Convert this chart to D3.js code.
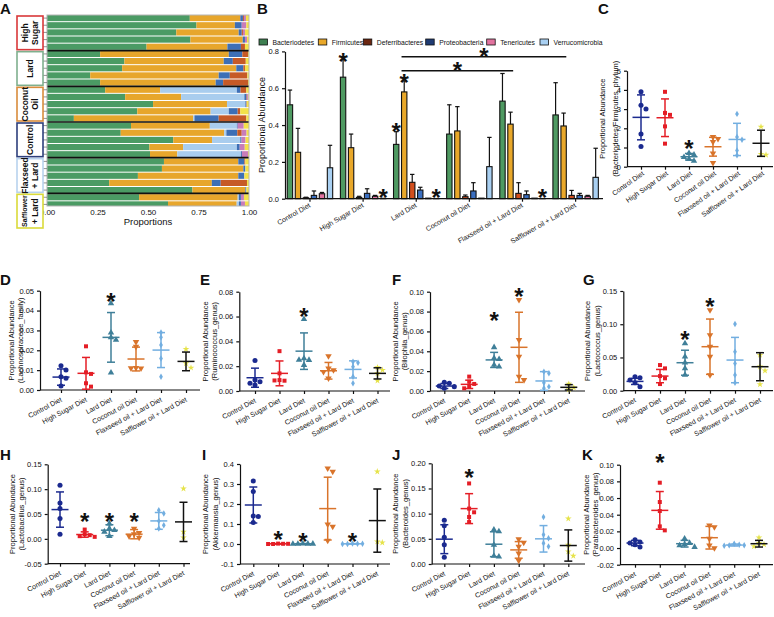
<!DOCTYPE html>
<html>
<head>
<meta charset="utf-8">
<script src="https://cdn.jsdelivr.net/npm/d3@7"></script>
<style>
  body { margin: 0; background: #fff; }
  svg { display: block; font-family: "Liberation Sans", Arial, sans-serif; }
</style>
</head>
<body>
<svg width="774" height="617"></svg>
<script>
const svg = d3.select('svg')

// ---------------- data ----------------
const diets = ['Control Diet', 'High Sugar Diet', 'Lard Diet', 'Coconut oil Diet', 'Flaxseed oil + Lard Diet', 'Safflower oil + Lard Diet']

// panel A: one row per mouse, top to bottom
const stackGroups = ['High Sugar', 'Lard', 'Coconut Oil', 'Control', 'Flaxseed + Lard', 'Safflower + Lard']
const stackGroupRows = [5, 5, 5, 5, 5, 4]
const stackBacteroidetes = [0.707, 0.74, 0.64, 0.71, 0.493, 0.263, 0.383, 0.372, 0.214, 0.263, 0.288, 0.387, 0.525, 0.447, 0.133, 0.416, 0.365, 0.625, 0.507, 0.51, 0.579, 0.569, 0.45, 0.308, 0.72, 0.456, 0.599, 0.648, 0.5]
const stackFirmicutes = [0.25, 0.19, 0.309, 0.259, 0.4, 0.637, 0.492, 0.565, 0.636, 0.572, 0.272, 0.277, 0.366, 0.363, 0.591, 0.39, 0.512, 0.192, 0.167, 0.135, 0.368, 0.403, 0.497, 0.508, 0.262, 0.488, 0.34, 0.312, 0.45]
const stackVerrucomicrobia = [0, 0, 0, 0, 0, 0, 0, 0, 0, 0, 0.38, 0.313, 0.091, 0.09, 0.006, 0.134, 0.011, 0.14, 0.266, 0.315, 0, 0, 0, 0, 0, 0.006, 0.011, 0, 0.005]
const stackProteobacteria = [0.013, 0.034, 0.015, 0.011, 0.067, 0.067, 0.045, 0.035, 0.055, 0.037, 0.018, 0.011, 0.005, 0.044, 0.12, 0.004, 0.054, 0.006, 0.014, 0.005, 0.03, 0.01, 0.03, 0.044, 0.005, 0.01, 0.01, 0.01, 0.01]
const stackDeferribacteres = [0.005, 0, 0.006, 0, 0.02, 0.028, 0.064, 0.008, 0.087, 0.123, 0.029, 0.003, 0.002, 0.013, 0.137, 0, 0.022, 0, 0, 0, 0.005, 0, 0, 0.13, 0, 0, 0, 0, 0]
const stackTenericutes = [0.01, 0.023, 0.01, 0.01, 0, 0, 0, 0, 0, 0, 0, 0.006, 0, 0, 0, 0.03, 0.024, 0.02, 0.025, 0.03, 0, 0, 0, 0, 0, 0.015, 0.02, 0.01, 0.015]
const stackTicks = [0, 0.25, 0.5, 0.75, 1]

// panel B: mean and SD of each phylum per diet
const phyla = ['Bacteriodetes', 'Firmicutes', 'Deferribacteres', 'Proteobacteria', 'Tenericutes', 'Verrucomicrobia']
const bacteriodetesMean = [0.51, 0.66, 0.295, 0.351, 0.53, 0.455]
const bacteriodetesSD = [0.08, 0.095, 0.069, 0.159, 0.15, 0.175]
const firmicutesMean = [0.252, 0.277, 0.58, 0.368, 0.405, 0.395]
const firmicutesSD = [0.13, 0.074, 0.06, 0.132, 0.065, 0.07]
const deferribacteresMean = [0.005, 0.007, 0.089, 0.011, 0.029, 0.018]
const deferribacteresSD = [0.003, 0.006, 0.043, 0.009, 0.058, 0.027]
const proteobacteriaMean = [0.018, 0.029, 0.047, 0.042, 0.022, 0.018]
const proteobacteriaSD = [0.024, 0.025, 0.015, 0.045, 0.02, 0.011]
const tenericutesMean = [0.027, 0.013, 0.003, 0.003, 0.003, 0.013]
const tenericutesSD = [0.007, 0.005, 0.001, 0.001, 0.001, 0.005]
const verrucomicrobiaMean = [0.168, 0.002, 0.001, 0.174, 0.001, 0.116]
const verrucomicrobiaSD = [0.122, 0, 0, 0.159, 0, 0.158]
const phylumTicks = [0, 0.2, 0.4, 0.6, 0.8]
const phylumStars = [
  ['High Sugar Diet', 'Bacteriodetes', 0.768],
  ['Lard Diet', 'Bacteriodetes', 0.391],
  ['Lard Diet', 'Firmicutes', 0.654],
  ['High Sugar Diet', 'Verrucomicrobia', 0.029],
  ['Lard Diet', 'Verrucomicrobia', 0.029],
  ['Flaxseed oil + Lard Diet', 'Verrucomicrobia', 0.029]
]
const phylumBrackets = [
  ['Lard Diet', 'Safflower oil + Lard Diet', 0.771],
  ['Lard Diet', 'Flaxseed oil + Lard Diet', 0.695]
]

// panels C-K: individual mice, mean, SD, star height (null = none)
const ratioPts = [[3.9, 3.2, 3.0, 1.7, 1.05], [3.9, 2.8, 2.7, 2.1, 1.2], [0.7, 0.62, 0.5, 0.4, 0.3], [1.55, 1.45, 1.3, 0.7, 0.2], [2.75, 1.55, 1.4, 0.85, 0.6], [2.08, 0.66, 0.62]]
const ratioMean = [2.57, 2.55, 0.52, 1.04, 1.42, 1.22]
const ratioSD = [1.17, 0.98, 0.17, 0.49, 0.84, 0.68]
const ratioStars = [null, null, 1.18, null, null, null]
const ratioTicks = [0, 1, 2, 3, 4, 5]

const lachnoPts = [[0.0122, 0.0101, 0.0067, 0.0059, 0.002], [0.022, 0.0089, 0.0081, 0.0034, 0.0017], [0.0436, 0.0289, 0.0265, 0.0252, 0.0087], [0.0242, 0.0218, 0.0112, 0.0109, 0.011], [0.029, 0.0265, 0.0227, 0.0159, 0.0067], [0.0206, 0.0134, 0.0112]]
const lachnoMean = [0.0065, 0.0084, 0.0265, 0.0156, 0.0201, 0.0144]
const lachnoSD = [0.0041, 0.008, 0.0125, 0.006, 0.0088, 0.0047]
const lachnoStars = [null, null, 0.0469, null, null, null]
const lachnoTicks = [0, 0.01, 0.02, 0.03, 0.04, 0.05]

const ruminoPts = [[0.0246, 0.0088, 0.0075, 0.0062, 0.0048], [0.0321, 0.0142, 0.0088, 0.0083, 0.0085], [0.0578, 0.0262, 0.0249, 0.0209, 0.025], [0.0281, 0.0182, 0.0169, 0.0155, 0.0102], [0.0236, 0.0228, 0.0195, 0.0115, 0.0062], [0.019, 0.0169, 0.0142, 0.0083]]
const ruminoMean = [0.0107, 0.0142, 0.0321, 0.0163, 0.0174, 0.0142]
const ruminoSD = [0.0077, 0.01, 0.0147, 0.0067, 0.0069, 0.0045]
const ruminoStars = [null, null, 0.0639, null, null, null]
const ruminoTicks = [0, 0.02, 0.04, 0.06, 0.08]

const biloPts = [[0.0087, 0.0077, 0.005, 0.0044, 0.0027], [0.0145, 0.0094, 0.0071, 0.0044, 0.0027], [0.044, 0.033, 0.032, 0.0262, 0.0245], [0.0918, 0.0514, 0.0346, 0.0145, 0.0111], [0.0195, 0.0178, 0.0084, 0.0044, 0.0027], [0.0071, 0.0034, 0.0017]]
const biloMean = [0.005, 0.0067, 0.0313, 0.044, 0.0101, 0.0037]
const biloSD = [0.0025, 0.0042, 0.0076, 0.0353, 0.0094, 0.0027]
const biloStars = [null, null, 0.0758, 0.1, null, null]
const biloTicks = [0, 0.02, 0.04, 0.06, 0.08, 0.1]

const lactococPts = [[0.021, 0.0196, 0.016, 0.012, 0.006], [0.0386, 0.0336, 0.022, 0.0186, 0.01], [0.0712, 0.0512, 0.0421, 0.0336, 0.0236], [0.1214, 0.0837, 0.0662, 0.0512, 0.0236], [0.1003, 0.0587, 0.0411, 0.0236, 0.012], [0.0537, 0.0361, 0.0301, 0.0095]]
const lactococMean = [0.014, 0.022, 0.0421, 0.0662, 0.0461, 0.0361]
const lactococSD = [0.0046, 0.01, 0.0188, 0.0416, 0.0341, 0.0211]
const lactococStars = [null, null, 0.0838, 0.134, null, null]
const lactococTicks = [0, 0.05, 0.1, 0.15]

const lactobacPts = [[0.1078, 0.0723, 0.0609, 0.0408, 0.0094], [0.0187, 0.0094, 0.0074, 0.0054, 0.004], [0.0308, 0.0207, 0.0174, 0.0141, 0.0054], [0.0207, 0.012, 0.0094, 0.0054, 0.0027], [0.0576, 0.0509, 0.0361, 0.0274, 0.0207], [0.1011, 0.0141, 0.0027]]
const lactobacMean = [0.0589, 0.0087, 0.0174, 0.0094, 0.0361, 0.0341]
const lactobacSD = [0.0355, 0.0054, 0.011, 0.0093, 0.0169, 0.0395]
const lactobacStars = [null, 0.043, 0.043, 0.043, null, null]
const lactobacTicks = [-0.05, 0, 0.05, 0.1, 0.15]

const akkPts = [[0.315, 0.262, 0.14, 0.137, 0.107], [0.002, 0.001, 0, 0.001, 0], [0.002, 0.001, 0, 0.001, 0], [0.378, 0.362, 0.098, 0.087, 0.017], [0.002, 0.001, 0, 0.001, 0], [0.362, 0.012, 0.007]]
const akkMean = [0.195, 0.001, 0.001, 0.177, 0.001, 0.117]
const akkSD = [0.09, 0.001, 0.001, 0.157, 0.001, 0.158]
const akkStars = [null, 0.045, 0.0335, null, 0.0335, null]
const akkTicks = [-0.1, 0, 0.1, 0.2, 0.3, 0.4]

const bacteroidesPts = [[0.0867, 0.076, 0.0533, 0.038, 0.0133], [0.16, 0.11, 0.1027, 0.0933, 0.0833], [0.068, 0.0647, 0.038, 0.016, 0.0147], [0.0493, 0.0427, 0.0347, 0.0213, 0.0067], [0.0933, 0.058, 0.0513, 0.0413, 0.0347], [0.09, 0.038, 0.0247, 0.016]]
const bacteroidesMean = [0.0493, 0.11, 0.0393, 0.028, 0.05, 0.0367]
const bacteroidesSD = [0.0287, 0.0297, 0.0247, 0.0165, 0.0263, 0.031]
const bacteroidesStars = [null, 0.18, null, null, null, null]
const bacteroidesTicks = [0, 0.05, 0.1, 0.15, 0.2]

const paraPts = [[0.01, 0.0072, 0.006, 0.004, 0.0012], [0.0784, 0.0552, 0.0444, 0.026, 0.0212], [0.0112, 0.006, 0.0044, 0.0032, 0.0012], [0.0272, 0.0252, 0.0112, 0.0032, 0], [0.0052, 0.004, 0.0032, 0.0034, 0.0028], [0.0124, 0.006, 0.0044, 0.002]]
const paraMean = [0.006, 0.0452, 0.0052, 0.0124, 0.0036, 0.0052]
const paraSD = [0.0032, 0.0226, 0.004, 0.0136, 0.0012, 0.004]
const paraStars = [null, 0.108, null, null, null, null]
const paraTicks = [-0.02, 0, 0.02, 0.04, 0.06, 0.08, 0.1]

// ---------------- styles ----------------
const ink = '#111'
const stackKeys = ['Bacteroidetes', 'Firmicutes', 'Verrucomicrobia', 'Proteobacteria', 'Deferribacteres', 'Tenericutes', 'Other']
const stackColor = d3.scaleOrdinal(stackKeys, ['#4b9b64', '#e7a62c', '#a9cdee', '#3d6fb6', '#c65a27', '#c87db9', '#f3e24a'])
const boxColor = d3.scaleOrdinal(stackGroups, ['#d9383a', '#7fb08e', '#d98c3c', '#2d3f7c', '#b8d3ee', '#dada3a'])
const phylumColor = d3.scaleOrdinal(phyla, ['#4f9a62', '#e9a82a', '#d24f1e', '#3b6fc0', '#e2739f', '#a9d0f2'])
const legendColor = d3.scaleOrdinal(phyla, ['#3f7f50', '#e9a82a', '#6b2610', '#1f3b73', '#e2739f', '#a9d0f2'])
const dietColor = ['#1b2a8f', '#e41e26', '#3f7f99', '#d9742b', '#72aee0', '#e6e34a']
const errColor = ['#1b2a8f', '#e41e26', '#3f7f99', '#d9742b', '#72aee0', '#111']
const dietSymbol = [d3.symbolCircle, d3.symbolSquare, d3.symbolTriangle, d3.symbolTriangle, d3.symbolDiamond, d3.symbolStar]
const symbolSize = [20, 16, 18, 18, 12, 14]

const styleAxis = (g, fs) => {
  g.attr('font-size', fs).attr('font-family', null)
  g.selectAll('path, line').attr('stroke', ink).attr('stroke-width', 1.2)
  g.selectAll('text').attr('fill', ink)
}

const letter = (t, x, y) => svg.append('text').attr('x', x).attr('y', y)
  .attr('font-size', 15).attr('font-weight', 'bold').attr('fill', ink).text(t)

const star = (g, x, cy) => g.append('text').attr('x', x).attr('y', cy + 13)
  .attr('text-anchor', 'middle').attr('font-size', 24).attr('font-weight', 'bold')
  .attr('fill', ink).text('*')

// ---------------- panel A ----------------
letter('A', 0, 14)
const stackArrays = {
  Bacteroidetes: stackBacteroidetes, Firmicutes: stackFirmicutes, Verrucomicrobia: stackVerrucomicrobia,
  Proteobacteria: stackProteobacteria, Deferribacteres: stackDeferribacteres, Tenericutes: stackTenericutes
}
const stackRows = []
let k = 0
stackGroups.forEach((grp, gi) => {
  for (let j = 0; j < stackGroupRows[gi]; j++, k++) {
    const r = { group: grp, slot: gi * 5 + j }
    stackKeys.slice(0, 6).forEach(p => { r[p] = stackArrays[p][k] })
    r.Other = Math.max(0, 1 - d3.sum(stackKeys.slice(0, 6), p => r[p]))
    stackRows.push(r)
  }
})

const aLeft = 47, aRight = 249, aTop = 15, aBottom = 206
const aX = d3.scaleLinear().domain([0, 1]).range([aLeft, aRight])
const aSlot = d3.scaleBand().domain(d3.range(30)).range([aTop, 229]).paddingInner(0.14)
const aGroupY = d3.scaleBand().domain(stackGroups).range([aTop, 229])

svg.append('clipPath').attr('id', 'clipA')
  .append('rect').attr('x', aLeft).attr('y', aTop).attr('width', aRight - aLeft).attr('height', aBottom - aTop)

const aPlot = svg.append('g').attr('clip-path', 'url(#clipA)')
aPlot.selectAll('g.layer').data(d3.stack().keys(stackKeys)(stackRows)).join('g')
  .attr('fill', s => stackColor(s.key))
  .selectAll('rect').data(s => s).join('rect')
  .attr('x', d => aX(d[0]))
  .attr('width', d => Math.max(0, aX(d[1]) - aX(d[0])))
  .attr('y', d => aSlot(d.data.slot))
  .attr('height', aSlot.bandwidth())

aPlot.selectAll('line.sep').data(stackGroups.slice(1)).join('line')
  .attr('x1', aLeft).attr('x2', aRight)
  .attr('y1', d => aGroupY(d)).attr('y2', d => aGroupY(d))
  .attr('stroke', ink).attr('stroke-width', 1.6)

svg.append('rect').attr('x', aLeft).attr('y', aTop)
  .attr('width', aRight - aLeft).attr('height', aBottom - aTop)
  .attr('fill', 'none').attr('stroke', '#b5b5b5').attr('stroke-width', 1)

svg.append('g').selectAll('line').data(stackRows.filter(r => aSlot(r.slot) + aSlot.bandwidth() / 2 < aBottom)).join('line')
  .attr('x1', 43).attr('x2', aLeft)
  .attr('y1', r => aSlot(r.slot) + aSlot.bandwidth() / 2)
  .attr('y2', r => aSlot(r.slot) + aSlot.bandwidth() / 2)
  .attr('stroke', '#777').attr('stroke-width', 0.8)

const aAxis = svg.append('g').attr('transform', `translate(0,${aBottom})`)
  .call(d3.axisBottom(aX).tickValues(stackTicks).tickFormat(d3.format('.2f')).tickSize(0).tickPadding(3))
  .call(styleAxis, 8)
aAxis.select('.domain').remove()

svg.append('text').attr('x', (aLeft + aRight) / 2).attr('y', 225)
  .attr('text-anchor', 'middle').attr('font-size', 9.5).attr('fill', ink).text('Proportions')

const boxLines = { 'High Sugar': ['High', 'Sugar'], 'Lard': ['Lard'], 'Coconut Oil': ['Coconut', 'Oil'], 'Control': ['Control'], 'Flaxseed + Lard': ['Flaxseed', '+ Lard'], 'Safflower + Lard': ['Safflower', '+ Lard'] }
stackGroups.forEach(grp => {
  const y0 = aGroupY(grp) + 1, h = aGroupY.bandwidth() - 2, cy = y0 + h / 2
  const bg = svg.append('g')
  bg.append('rect').attr('x', 17).attr('y', y0).attr('width', 26).attr('height', h)
    .attr('fill', '#fff').attr('stroke', boxColor(grp)).attr('stroke-width', 1.6)
  const lines = boxLines[grp]
  lines.forEach((t, i) => {
    const cx = 30 + (i - (lines.length - 1) / 2) * 10
    const txt = bg.append('text').attr('transform', `translate(${cx},${cy}) rotate(-90)`)
      .attr('text-anchor', 'middle').attr('dy', '0.35em')
      .attr('font-size', 8.5).attr('font-weight', 'bold').attr('fill', ink).text(t)
    // long words are squeezed into the box
    const len = txt.node().getComputedTextLength()
    if (len > h + 3) txt.attr('font-size', 8.5 * (h - 2) / len)
  })
})

// ---------------- panel B ----------------
letter('B', 257, 14)
const bMeans = { Bacteriodetes: bacteriodetesMean, Firmicutes: firmicutesMean, Deferribacteres: deferribacteresMean, Proteobacteria: proteobacteriaMean, Tenericutes: tenericutesMean, Verrucomicrobia: verrucomicrobiaMean }
const bSDs = { Bacteriodetes: bacteriodetesSD, Firmicutes: firmicutesSD, Deferribacteres: deferribacteresSD, Proteobacteria: proteobacteriaSD, Tenericutes: tenericutesSD, Verrucomicrobia: verrucomicrobiaSD }
const bBars = []
diets.forEach((d, i) => phyla.forEach(p => bBars.push({ diet: d, phylum: p, mean: bMeans[p][i], sd: bSDs[p][i] })))

const bX = d3.scaleBand().domain(diets).range([284.6, 601]).paddingInner(0.145).paddingOuter(0.05)
const bSub = d3.scaleBand().domain(phyla).range([0, bX.bandwidth()]).paddingInner(0.33)
const bY = d3.scaleLinear().domain([0, 0.8]).range([198.7, 51.4])
const bCenter = (d, p) => bX(d) + bSub(p) + bSub.bandwidth() / 2

const bG = svg.append('g')
bG.selectAll('rect').data(bBars).join('rect')
  .attr('x', d => bX(d.diet) + bSub(d.phylum))
  .attr('width', bSub.bandwidth())
  .attr('y', d => bY(d.mean))
  .attr('height', d => bY(0) - bY(d.mean))
  .attr('fill', d => phylumColor(d.phylum))
  .attr('stroke', ink).attr('stroke-width', 1.1)

const bErr = bG.selectAll('g.err').data(bBars.filter(d => d.sd > 0.002)).join('g')
bErr.append('line')
  .attr('x1', d => bCenter(d.diet, d.phylum)).attr('x2', d => bCenter(d.diet, d.phylum))
  .attr('y1', d => bY(d.mean)).attr('y2', d => bY(d.mean + d.sd))
  .attr('stroke', ink).attr('stroke-width', 1.2)
bErr.append('line')
  .attr('x1', d => bCenter(d.diet, d.phylum) - 2.2).attr('x2', d => bCenter(d.diet, d.phylum) + 2.2)
  .attr('y1', d => bY(d.mean + d.sd)).attr('y2', d => bY(d.mean + d.sd))
  .attr('stroke', ink).attr('stroke-width', 1.2)

svg.append('g').attr('transform', 'translate(285,0)')
  .call(d3.axisLeft(bY).tickValues(phylumTicks).tickFormat(d3.format('.1f')).tickSize(3).tickSizeOuter(0))
  .call(styleAxis, 7.5)

const bXAxis = svg.append('g').attr('transform', `translate(0,${bY(0)})`)
  .call(d3.axisBottom(bX).tickSize(3).tickSizeOuter(0))
  .call(styleAxis, 7)
bXAxis.select('.domain').attr('d', 'M285,0H603')
bXAxis.selectAll('.tick text').attr('x', 0).attr('y', 0).attr('dy', 0)
  .attr('text-anchor', 'end').attr('transform', 'translate(1,8) rotate(-30)')

svg.append('text').attr('transform', `translate(262,${(bY(0) + bY(0.8)) / 2}) rotate(-90)`)
  .attr('text-anchor', 'middle').attr('dy', '0.35em').attr('font-size', 9).attr('fill', ink)
  .text('Proportional Abundance')

phylumStars.forEach(([d, p, v]) => star(svg, bCenter(d, p), bY(v)))
phylumBrackets.forEach(([a, b, v]) => {
  const x0 = bX(a) + bSub('Firmicutes'), x1 = bX(b) + bSub('Firmicutes') + bSub.bandwidth()
  svg.append('line').attr('x1', x0).attr('x2', x1).attr('y1', bY(v)).attr('y2', bY(v))
    .attr('stroke', ink).attr('stroke-width', 1.3)
  star(svg, (x0 + x1) / 2, bY(v) - 5)
})

const legendX = [259, 318.3, 363.3, 425.7, 486.7, 540]
const leg = svg.append('g').selectAll('g').data(phyla).join('g')
  .attr('transform', (p, i) => `translate(${legendX[i]},39)`)
leg.append('rect').attr('width', 8.5).attr('height', 6)
  .attr('fill', p => legendColor(p)).attr('stroke', ink).attr('stroke-width', 0.8)
leg.append('text').attr('x', 13.5).attr('y', 5.8).attr('font-size', 6.8).attr('fill', ink).text(p => p)

// ---------------- panels C-K ----------------
const fmt2 = d => d.toFixed(2)
const dotPanels = [
  { id: 'C', taxon: '(Bacteriodetes/Firmicutes_phylum)', pts: ratioPts, mean: ratioMean, sd: ratioSD, stars: ratioStars, ticks: ratioTicks, fmt: d => d.toFixed(0),
    ax: 627, y0: 166.7, y1: 70.7, c0: 641, pitch: 24, xEnd: 773, rot: -35, ldx: 3, ldy: 8, lx: [602, 615], at: [598, 14] },
  { id: 'D', taxon: '(Lachnospiraceae_family)', pts: lachnoPts, mean: lachnoMean, sd: lachnoSD, stars: lachnoStars, ticks: lachnoTicks, fmt: fmt2,
    ax: 40, y0: 390, y1: 290.7, c0: 61, pitch: 25, xEnd: 200, rot: -28, ldx: 1, ldy: 11, lx: [11.7, 20.5], at: [0, 285] },
  { id: 'E', taxon: '(Ruminococcus_genus)', pts: ruminoPts, mean: ruminoMean, sd: ruminoSD, stars: ruminoStars, ticks: ruminoTicks, fmt: fmt2,
    ax: 239.3, y0: 391, y1: 291.7, c0: 255, pitch: 24.5, xEnd: 390, rot: -28, ldx: 1, ldy: 11, lx: [205, 214], at: [200, 285] },
  { id: 'F', taxon: '(Bilophila_genus)', pts: biloPts, mean: biloMean, sd: biloSD, stars: biloStars, ticks: biloTicks, fmt: fmt2,
    ax: 430, y0: 391, y1: 291.7, c0: 444.3, pitch: 24.9, xEnd: 585, rot: -28, ldx: 1, ldy: 11, lx: [395, 404], at: [392, 285] },
  { id: 'G', taxon: '(Lactococcus_genus)', pts: lactococPts, mean: lactococMean, sd: lactococSD, stars: lactococStars, ticks: lactococTicks, fmt: fmt2,
    ax: 623.3, y0: 390.7, y1: 291, c0: 635, pitch: 25, xEnd: 773, rot: -28, ldx: 1, ldy: 11, lx: [587, 597], at: [583, 285] },
  { id: 'H', taxon: '(Lactobacillus_genus)', pts: lactobacPts, mean: lactobacMean, sd: lactobacSD, stars: lactobacStars, ticks: lactobacTicks, fmt: fmt2,
    ax: 47.7, y0: 563.7, y1: 464.3, c0: 60, pitch: 24.7, xEnd: 190, rot: -28, ldx: 1, ldy: 11, lx: [12.7, 21.7], at: [0, 460] },
  { id: 'I', taxon: '(Akkermansia_genus)', pts: akkPts, mean: akkMean, sd: akkSD, stars: akkStars, ticks: akkTicks, fmt: d => d.toFixed(1),
    ax: 240, y0: 564, y1: 464, c0: 253.3, pitch: 24.8, xEnd: 390, rot: -28, ldx: 1, ldy: 11, lx: [205, 215], at: [202, 460] },
  { id: 'J', taxon: '(Bacteroides_genus)', pts: bacteroidesPts, mean: bacteroidesMean, sd: bacteroidesSD, stars: bacteroidesStars, ticks: bacteroidesTicks, fmt: fmt2,
    ax: 431.7, y0: 564, y1: 463.3, c0: 444.3, pitch: 24.8, xEnd: 585, rot: -28, ldx: 1, ldy: 11, lx: [395, 405], at: [392, 460] },
  { id: 'K', taxon: '(Parabacteroides_genus)', pts: paraPts, mean: paraMean, sd: paraSD, stars: paraStars, ticks: paraTicks, fmt: fmt2,
    ax: 620, y0: 564.7, y1: 464.7, c0: 635, pitch: 24.8, xEnd: 773, rot: -28, ldx: 1, ldy: 11, lx: [586, 595], at: [582, 460] }
]

// spread overlapping points sideways, GraphPad style
function dodge(vals, y, cx) {
  const placed = []
  return vals.map(v => {
    const py = y(v)
    const offs = [0, 5, -5, 10, -10, 15, -15]
    let dx = 0
    for (const o of offs) {
      if (placed.every(p => Math.hypot(p[0] - o, p[1] - py) >= 4.5)) { dx = o; break }
    }
    placed.push([dx, py])
    return [cx + dx, py]
  })
}

function drawDotPanel(p) {
  letter(p.id, p.at[0], p.at[1])
  const g = svg.append('g')
  const domain = d3.extent(p.ticks)
  const y = d3.scaleLinear().domain(domain).range([p.y0, p.y1])
  const x = d3.scalePoint().domain(diets).range([p.c0, p.c0 + 5 * p.pitch])
  const base = y(domain[0])

  g.append('g').attr('transform', `translate(${p.ax},0)`)
    .call(d3.axisLeft(y).tickValues(p.ticks).tickFormat(p.fmt).tickSize(3).tickSizeOuter(0))
    .call(styleAxis, 7.5)

  const xa = g.append('g').attr('transform', `translate(0,${base})`)
    .call(d3.axisBottom(x).tickSize(3).tickSizeOuter(0))
    .call(styleAxis, 7)
  xa.select('.domain').attr('d', `M${p.ax},0H${p.xEnd}`)
  xa.selectAll('.tick text').attr('x', 0).attr('y', 0).attr('dy', 0)
    .attr('text-anchor', 'end').attr('transform', `translate(${p.ldx},${p.ldy}) rotate(${p.rot})`)

  diets.forEach((d, i) => {
    const cx = x(d)
    const sym = d3.symbol(dietSymbol[i], symbolSize[i])
    dodge(p.pts[i], y, cx).forEach(([px, py]) => {
      g.append('path').attr('d', sym)
        .attr('transform', `translate(${px},${py})${i === 3 ? ' rotate(180)' : ''}`)
        .attr('fill', dietColor[i])
    })
    const m = p.mean[i], s = p.sd[i], col = errColor[i]
    const seg = (x1, x2, y1, y2) => g.append('line').attr('x1', x1).attr('x2', x2).attr('y1', y1).attr('y2', y2)
      .attr('stroke', col).attr('stroke-width', 1.5)
    seg(cx, cx, y(m - s), y(m + s))
    seg(cx - 4, cx + 4, y(m - s), y(m - s))
    seg(cx - 4, cx + 4, y(m + s), y(m + s))
    seg(cx - 8.5, cx + 8.5, y(m), y(m))
    if (p.stars[i] != null) star(g, cx, y(p.stars[i]))
  })

  const cy = (p.y0 + p.y1) / 2
  ;['Proportional Abundance', p.taxon].forEach((t, i) => {
    g.append('text').attr('transform', `translate(${p.lx[i]},${cy}) rotate(-90)`)
      .attr('text-anchor', 'middle').attr('dy', '0.35em')
      .attr('font-size', 7.5).attr('fill', ink).text(t)
  })
}

dotPanels.forEach(drawDotPanel)
</script>
</body>
</html>
